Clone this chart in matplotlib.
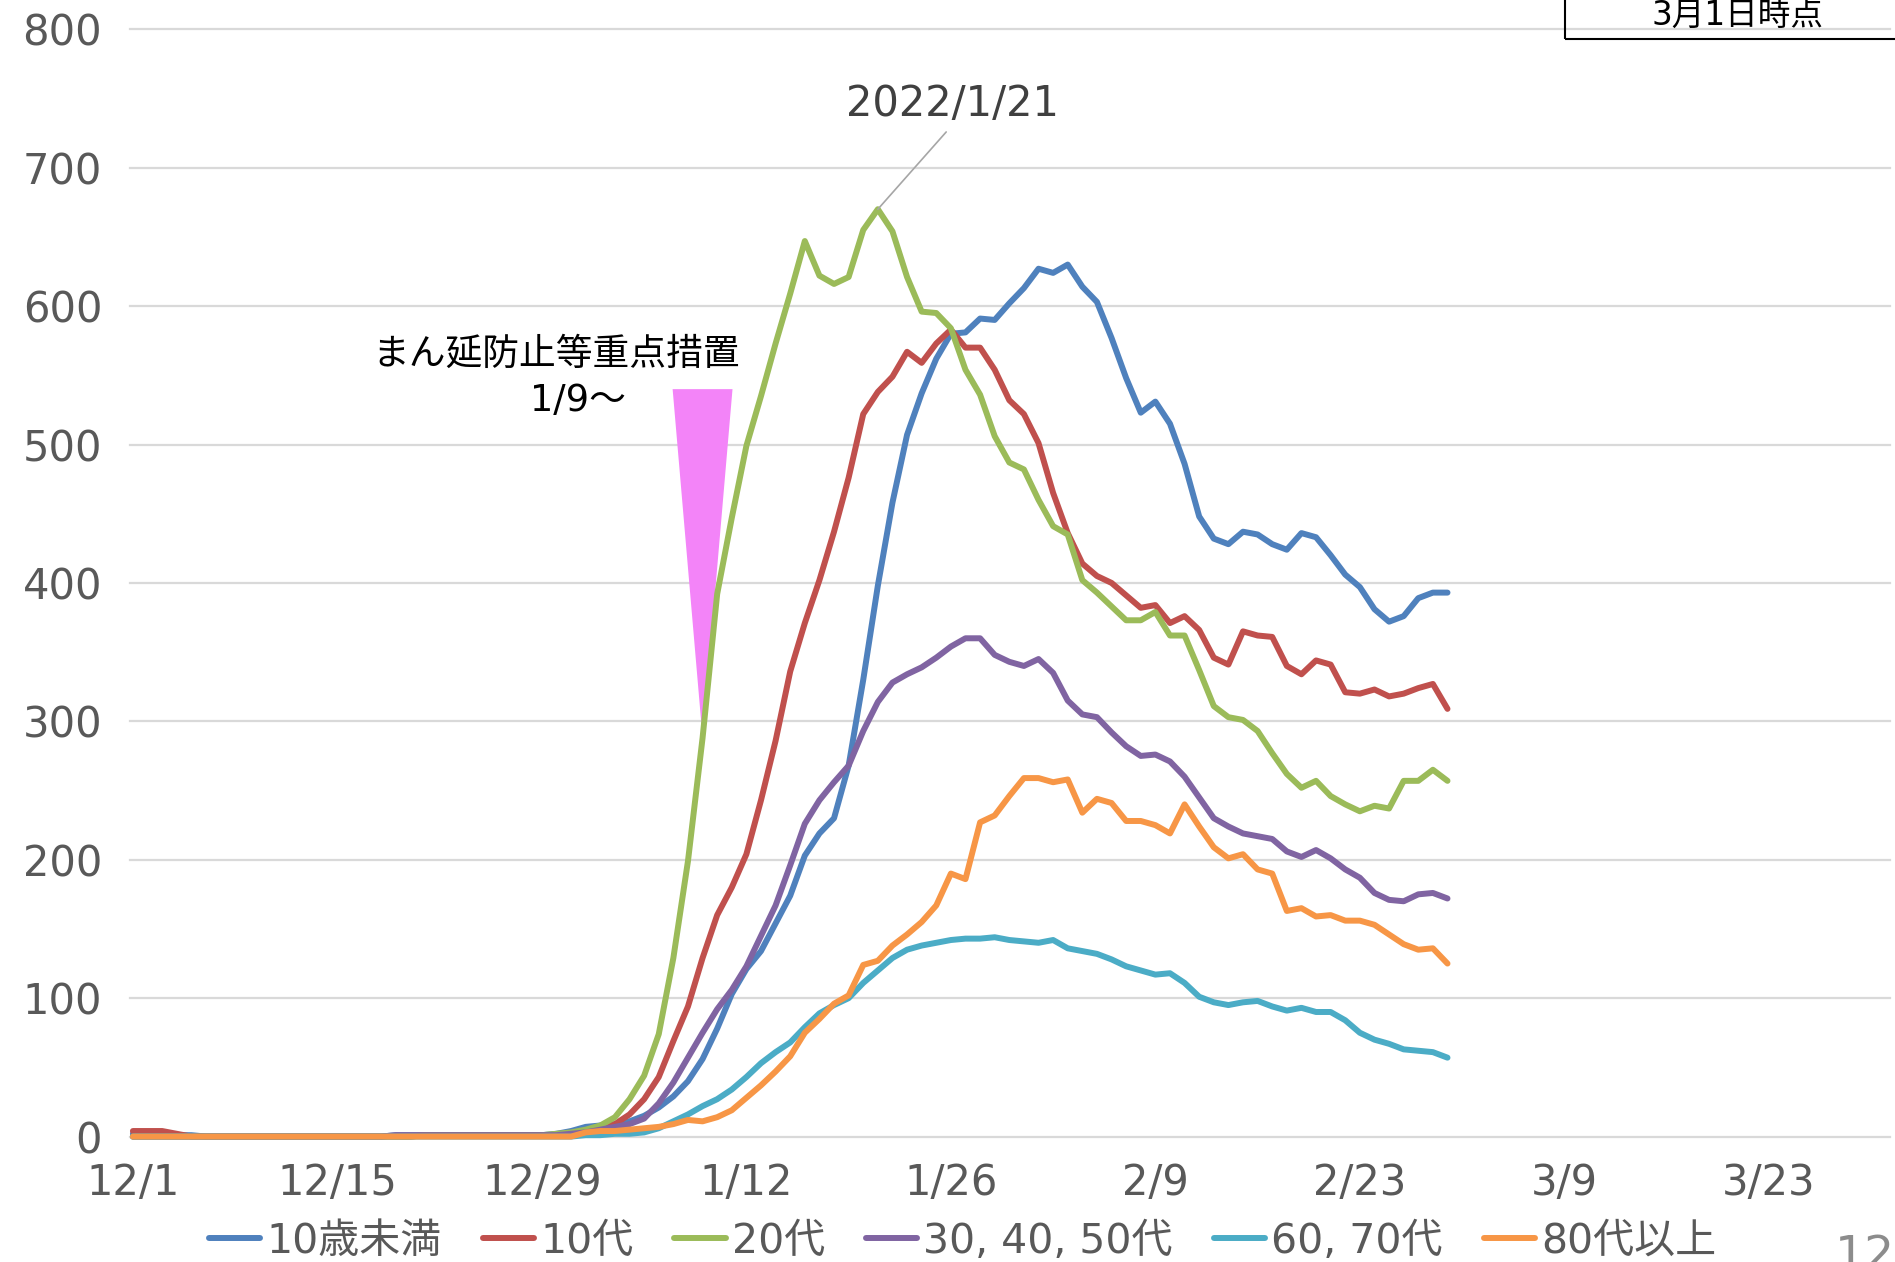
import matplotlib.pyplot as plt
import matplotlib.patches as mpatches
import matplotlib.dates as mdates
import pandas as pd

plt.rcParams['font.family'] = ['DejaVu Sans', 'Noto Sans CJK JP']

# daily values, 2021/12/1 .. 2022/3/1 (91 days)
dates = pd.date_range('2021-12-01', '2022-03-01', freq='D')

under10 = [2, 2, 2, 1, 1] + [0] * 13 + [1] * 10 + [
    1, 2, 4, 7, 8, 9, 11, 15, 21, 29, 40, 56, 78, 103, 121, 134, 154, 174, 203, 219,
    230, 268, 330, 398, 458, 507, 537, 562, 580, 581, 591, 590, 602, 613, 627, 624, 630, 614, 603, 577,
    548, 523, 531, 515, 486, 448, 432, 428, 437, 435, 428, 424, 436, 433, 420, 406, 397, 381, 372, 376,
    389, 393, 393]
teens = [4, 4, 4, 2] + [0] * 16 + [1] * 8 + [
    1, 1, 2, 3, 6, 9, 16, 27, 43, 69, 94, 129, 160, 180, 204, 243, 286, 336, 371, 402,
    437, 476, 522, 538, 549, 567, 559, 573, 583, 570, 570, 554, 532, 522, 501, 465, 436, 414, 405, 400,
    391, 382, 384, 371, 376, 366, 346, 341, 365, 362, 361, 340, 334, 344, 341, 321, 320, 323, 318, 320,
    324, 327, 309]
twenties = [0] * 20 + [1] * 8 + [
    1, 2, 3, 5, 8, 14, 27, 44, 74, 129, 199, 288, 392, 447, 499, 535, 573, 609, 647, 622,
    616, 621, 655, 670, 654, 621, 596, 595, 584, 554, 536, 506, 487, 482, 460, 441, 435, 402, 393, 383,
    373, 373, 379, 362, 362, 337, 311, 303, 301, 293, 277, 262, 252, 257, 246, 240, 235, 239, 237, 257,
    257, 265, 257]
middle = [0] * 18 + [1] * 10 + [
    1, 1, 2, 3, 5, 7, 9, 13, 24, 39, 57, 75, 92, 106, 123, 145, 167, 196, 226, 243,
    256, 268, 293, 314, 328, 334, 339, 346, 354, 360, 360, 348, 343, 340, 345, 335, 315, 305, 303, 292,
    282, 275, 276, 271, 260, 245, 230, 224, 219, 217, 215, 206, 202, 207, 201, 193, 187, 176, 171, 170,
    175, 176, 172]
sixties = [0] * 28 + [
    0, 0, 0, 1, 1, 2, 2, 3, 6, 11, 16, 22, 27, 34, 43, 53, 61, 68, 79, 89,
    95, 100, 111, 120, 129, 135, 138, 140, 142, 143, 143, 144, 142, 141, 140, 142, 136, 134, 132, 128,
    123, 120, 117, 118, 111, 101, 97, 95, 97, 98, 94, 91, 93, 90, 90, 84, 75, 70, 67, 63,
    62, 61, 57]
over80 = [0] * 28 + [
    0, 0, 0, 3, 4, 4, 5, 6, 7, 9, 12, 11, 14, 19, 28, 37, 47, 58, 75, 85,
    96, 102, 124, 127, 138, 146, 155, 167, 190, 186, 227, 232, 246, 259, 259, 256, 258, 234, 244, 241,
    228, 228, 225, 219, 240, 224, 209, 201, 204, 193, 190, 163, 165, 159, 160, 156, 156, 153, 146, 139,
    135, 136, 125]

labels = ['10歳未満', '10代', '20代', '30, 40, 50代', '60, 70代', '80代以上']
colors = ['#4F81BD', '#C0504D', '#9BBB59', '#8064A2', '#4BACC6', '#F79646']
series = [under10, teens, twenties, middle, sixties, over80]

tick_dates = pd.date_range('2021-12-01', periods=9, freq='14D')
tick_labels = [f'{d.month}/{d.day}' for d in tick_dates]

measure_date = pd.Timestamp('2022-01-09')
peak_date = pd.Timestamp('2022-01-21')

fig = plt.figure(figsize=(18.95, 12.62), dpi=100)
ax = fig.add_axes([0.0686, 0.0994, 0.9288, 0.8774])

for vals, lab, col in zip(series, labels, colors):
    ax.plot(dates, vals, color=col, lw=4.3, label=lab, clip_on=False,
            solid_joinstyle='round', solid_capstyle='round')

start = dates[0]
ax.set_xlim(start - pd.Timedelta(days=0.2), start + pd.Timedelta(days=120.3))
ax.set_ylim(0, 800)
ax.set_yticks(range(0, 801, 100))
ax.set_xticks(tick_dates)
ax.set_xticklabels(tick_labels)

ax.grid(axis='y', color='#D9D9D9', lw=1.6)
for gl in ax.get_ygridlines():
    gl.set_clip_on(False)
ax.set_axisbelow(True)
for s in ax.spines.values():
    s.set_visible(False)
ax.tick_params(axis='both', length=0, labelsize=30, labelcolor='#595959')
ax.tick_params(axis='y', pad=20)
ax.tick_params(axis='x', pad=18)

# pink marker for まん延防止等重点措置 (1/9)
tip_val = twenties[(measure_date - start).days]
half = 2.05
mx = mdates.date2num(measure_date)
tri = [(mx - half, 540), (mx + half, 540), (mx, tip_val)]
ax.add_patch(mpatches.Polygon(tri, closed=True, facecolor='#F384F8', edgecolor='none', zorder=1))
ax.text(start + pd.Timedelta(days=29.0), 565, 'まん延防止等重点措置', ha='center', va='center',
        fontsize=26.5, color='black')
ax.text(start + pd.Timedelta(days=30.5), 532, '1/9～', ha='center', va='center',
        fontsize=26.5, color='black')

# peak label
peak_val = twenties[(peak_date - start).days]
ax.annotate('2022/1/21', xy=(peak_date, peak_val),
            xytext=(start + pd.Timedelta(days=56.1), 746), ha='center', va='center',
            fontsize=30, color='#404040',
            arrowprops=dict(arrowstyle='-', color='#A6A6A6', lw=1.2, relpos=(0.5, 0),
                            shrinkA=4, shrinkB=0))

# "3月1日時点" box
fig.patches.append(mpatches.Rectangle((0.8259, 0.969), 0.2, 0.05, transform=fig.transFigure,
                                      fill=False, edgecolor='black', lw=1.5))
fig.text(0.917, 0.988, '3月1日時点', ha='center', va='center', fontsize=23.5, color='black')

# page number, cut by the edge
fig.text(0.968, 0.022, '12', ha='left', va='top', fontsize=34, color='#8C8C8C')

fig.legend(loc='center', bbox_to_anchor=(0.508, 0.016), ncol=6, frameon=False,
           fontsize=29.5, labelcolor='#595959', handlelength=1.25, handletextpad=0.15,
           columnspacing=1.0)

fig.savefig('out.png', dpi=100)
